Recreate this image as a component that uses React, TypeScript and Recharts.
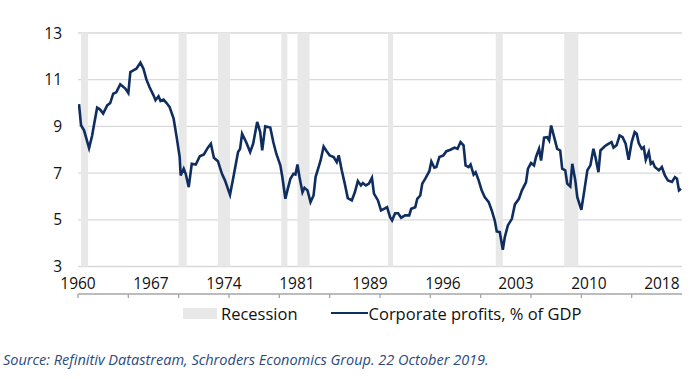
import React from "react"
import { LineChart, Line, XAxis, YAxis, CartesianGrid, ReferenceArea } from "recharts"

// quarterly-ish readings of corporate profits as % of GDP
const years = [
  1960.1, 1960.3, 1960.6, 1961.1, 1961.4, 1961.6, 1961.9, 1962.2, 1962.5, 1962.9,
  1963.2, 1963.5, 1963.8, 1964.2, 1964.7, 1965.0, 1965.2, 1965.5, 1965.8, 1966.2,
  1966.5, 1966.8, 1967.1, 1967.5, 1967.7, 1968.0, 1968.2, 1968.5, 1968.8, 1969.1,
  1969.5, 1969.8, 1970.1, 1970.2, 1970.5, 1970.7, 1971.0, 1971.3, 1971.7, 1972.1,
  1972.5, 1972.9, 1973.2, 1973.5, 1973.9, 1974.3, 1974.6, 1975.1, 1975.5, 1975.9,
  1976.1, 1976.3, 1976.7, 1977.1, 1977.4, 1977.8, 1978.1, 1978.3, 1978.6, 1979.1,
  1979.4, 1979.7, 1980.1, 1980.3, 1980.6, 1980.8, 1981.1, 1981.4, 1981.6, 1981.8,
  1982.0, 1982.3, 1982.5, 1982.8, 1983.1, 1983.4, 1983.6, 1983.9, 1984.1, 1984.4,
  1984.7, 1985.0, 1985.4, 1985.7, 1985.9, 1986.2, 1986.5, 1986.8, 1987.2, 1987.5,
  1987.8, 1988.1, 1988.3, 1988.6, 1988.9, 1989.2, 1989.4, 1989.8, 1990.1, 1990.4,
  1990.7, 1991.0, 1991.2, 1991.5, 1991.8, 1992.1, 1992.5, 1992.9, 1993.1, 1993.5,
  1993.7, 1994.0, 1994.2, 1994.5, 1994.9, 1995.1, 1995.4, 1995.6, 1995.9, 1996.3,
  1996.6, 1997.0, 1997.4, 1997.7, 1998.0, 1998.3, 1998.5, 1998.8, 1999.0, 1999.3,
  1999.5, 1999.8, 2000.1, 2000.4, 2000.8, 2001.1, 2001.4, 2001.6, 2001.9, 2002.2,
  2002.4, 2002.7, 2003.1, 2003.4, 2003.8, 2004.1, 2004.5, 2004.7, 2005.0, 2005.3,
  2005.5, 2005.8, 2006.0, 2006.3, 2006.6, 2006.8, 2007.0, 2007.3, 2007.6, 2007.9,
  2008.1, 2008.4, 2008.6, 2008.9, 2009.1, 2009.4, 2009.6, 2010.0, 2010.3, 2010.6,
  2010.9, 2011.2, 2011.4, 2011.7, 2011.9, 2012.3, 2012.6, 2013.0, 2013.2, 2013.5,
  2013.8, 2014.1, 2014.4, 2014.7, 2015.0, 2015.3, 2015.5, 2015.7, 2016.0, 2016.2,
  2016.4, 2016.7, 2016.9, 2017.1, 2017.3, 2017.7, 2018.0, 2018.3, 2018.6, 2019.0,
  2019.3, 2019.5, 2019.7, 2019.9,
]

const profits = [
  9.95, 9.05, 8.83, 8.07, 8.6, 9.09, 9.8, 9.72, 9.55, 9.9,
  10.0, 10.4, 10.46, 10.8, 10.62, 10.43, 11.33, 11.4, 11.47, 11.73,
  11.47, 11.0, 10.69, 10.33, 10.12, 10.29, 10.09, 10.15, 10.0, 9.83,
  9.33, 8.54, 7.69, 6.9, 7.19, 6.97, 6.4, 7.4, 7.37, 7.72,
  7.8, 8.09, 8.26, 7.66, 7.51, 6.97, 6.69, 6.07, 6.97, 7.9,
  8.04, 8.69, 8.33, 7.9, 8.26, 9.19, 8.76, 7.97, 9.0, 8.95,
  8.33, 7.83, 7.33, 6.83, 5.9, 6.26, 6.76, 6.97, 6.94, 7.37,
  6.83, 6.18, 6.37, 6.26, 5.76, 6.04, 6.83, 7.26, 7.54, 8.14,
  7.94, 7.76, 7.69, 7.47, 7.76, 7.12, 6.55, 5.93, 5.83, 6.18,
  6.66, 6.47, 6.57, 6.47, 6.55, 6.8, 6.12, 5.83, 5.4, 5.47,
  5.54, 5.11, 4.97, 5.28, 5.28, 5.09, 5.19, 5.19, 5.47, 5.54,
  5.9, 6.04, 6.55, 6.76, 7.08, 7.5, 7.23, 7.26, 7.69, 7.76,
  7.94, 8.0, 8.09, 8.04, 8.33, 8.19, 7.33, 7.26, 7.37, 6.94,
  7.04, 6.69, 6.26, 5.97, 5.76, 5.4, 4.97, 4.5, 4.47, 3.72,
  4.26, 4.76, 5.04, 5.66, 5.9, 6.26, 6.6, 7.19, 7.43, 7.33,
  7.69, 8.04, 7.54, 8.52, 8.54, 8.4, 9.04, 8.54, 8.04, 7.97,
  7.19, 7.12, 6.55, 6.43, 7.4, 6.69, 5.97, 5.43, 6.26, 7.12,
  7.33, 8.04, 7.69, 7.04, 7.97, 8.14, 8.23, 8.33, 8.09, 8.19,
  8.61, 8.54, 8.26, 7.57, 8.33, 8.76, 8.69, 8.29, 8.04, 8.11,
  7.57, 7.9, 7.4, 7.47, 7.26, 7.12, 7.26, 6.9, 6.69, 6.62,
  6.83, 6.76, 6.26, 6.33,
]

const recessionStarts = [1960.3, 1970.0, 1973.9, 1980.2, 1981.8, 1990.8, 2001.5, 2008.3]
const recessionEnds = [1961.0, 1970.8, 1975.1, 1980.8, 1983.0, 1991.3, 2002.2, 2009.7]

const yTicks = [3, 5, 7, 9, 11, 13]
const minorTicks = [1960, 1965, 1970, 1975, 1980, 1985, 1990, 1995, 2000, 2005, 2010, 2015]
// labels sit every 29 quarters on the original category axis
const labelTicks = [1960, 1967.25, 1974.5, 1981.75, 1989, 1996.25, 2003.5, 2010.75, 2018]
const labelText = ["1960", "1967", "1974", "1981", "1989", "1996", "2003", "2010", "2018"]

const data = years.map((y, i) => ({ year: y, profits: profits[i] }))

const LINE = "#0f2d5e"
const FONT = "'Open Sans', sans-serif"

export default function App() {
  return (
    <div style={{ position: "absolute", left: 0, top: 0, width: 695, height: 379, background: "#fff", fontFamily: FONT }}>
      <LineChart width={695} height={300} data={data} margin={{ top: 33, right: 13, left: 0, bottom: 0 }}>
        <CartesianGrid vertical={false} stroke="#d9d9d9" strokeWidth={1.3} />
        {recessionStarts.map((s, i) => (
          <ReferenceArea
            key={s}
            xAxisId="ticks"
            x1={s}
            x2={recessionEnds[i]}
            y1={3}
            y2={13}
            fill="#e8e8e8"
            fillOpacity={1}
            stroke="none"
          />
        ))}
        <XAxis
          xAxisId="ticks"
          dataKey="year"
          type="number"
          domain={[1960, 2020]}
          ticks={minorTicks}
          tickFormatter={() => ""}
          height={6}
          tickSize={4}
          stroke="#a6a6a6"
          strokeWidth={1.3}
          allowDataOverflow
        />
        <XAxis
          xAxisId="labels"
          dataKey="year"
          type="number"
          domain={[1960, 2020]}
          ticks={labelTicks}
          tickFormatter={(v) => labelText[labelTicks.indexOf(v)] ?? ""}
          interval={0}
          height={27.5}
          axisLine={false}
          tickLine={false}
          tickMargin={5}
          tick={{ fontSize: 15.5, fill: "#111", fontFamily: FONT }}
          allowDataOverflow
        />
        <YAxis
          domain={[3, 13]}
          ticks={yTicks}
          width={78}
          axisLine={false}
          tickLine={false}
          tickMargin={10}
          tick={{ fontSize: 15.5, fill: "#111", fontFamily: FONT }}
        />
        <Line
          xAxisId="ticks"
          dataKey="profits"
          stroke={LINE}
          strokeWidth={2.6}
          dot={false}
          type="linear"
          isAnimationActive={false}
        />
      </LineChart>
      <div style={{ position: "absolute", top: 302, left: 183, height: 22, display: "flex", alignItems: "center", fontSize: 16.5, color: "#111" }}>
        <span style={{ display: "inline-block", width: 34, height: 11, background: "#e8e8e8", marginRight: 4 }} />
        <span>Recession</span>
        <span style={{ display: "inline-block", width: 37, height: 2.5, background: LINE, marginLeft: 33, marginRight: 1 }} />
        <span>Corporate profits, % of GDP</span>
      </div>
      <div style={{ position: "absolute", top: 350, left: 3, fontSize: 14.5, fontStyle: "italic", color: "#2a4a7f" }}>
        Source: Refinitiv Datastream, Schroders Economics Group. 22 October 2019.
      </div>
    </div>
  )
}
